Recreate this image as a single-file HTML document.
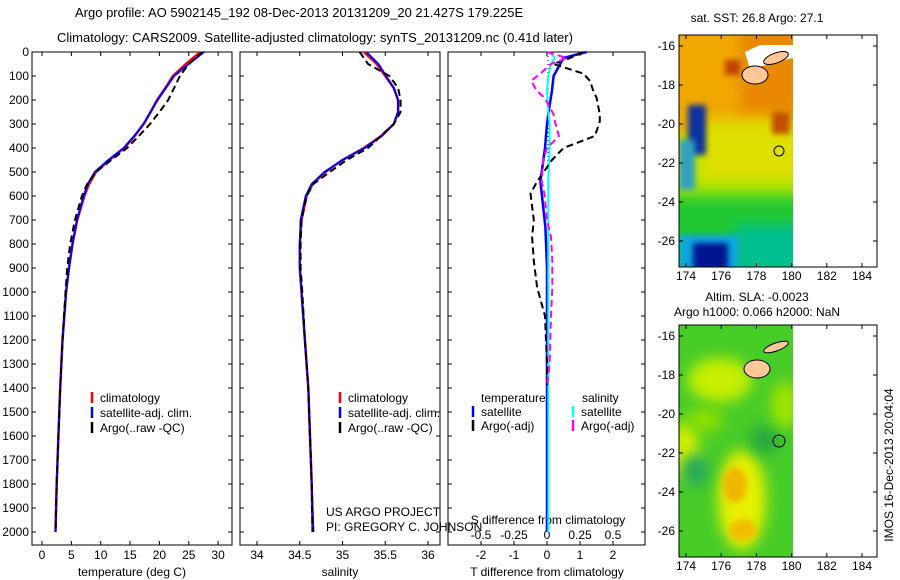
<!DOCTYPE html>
<html><head><meta charset="utf-8"><style>
body{margin:0;background:#fff;}
svg{display:block;font-family:"Liberation Sans",sans-serif;}
text{fill:#000;}
</style></head><body>
<svg id="c" width="900" height="580" viewBox="0 0 900 580">
<defs>
<filter id="bl" x="-50%" y="-50%" width="200%" height="200%"><feGaussianBlur stdDeviation="7"/></filter>
<filter id="bl2" x="-50%" y="-50%" width="200%" height="200%"><feGaussianBlur stdDeviation="3"/></filter>
<clipPath id="m1"><rect x="679" y="35" width="114" height="232"/></clipPath>
<clipPath id="m2"><rect x="679" y="325" width="114" height="232"/></clipPath>
</defs>
<text x="75" y="17" font-size="13">Argo profile: AO 5902145_192 08-Dec-2013 20131209_20 21.427S 179.225E</text>
<text x="57" y="42" font-size="13">Climatology: CARS2009. Satellite-adjusted climatology: synTS_20131209.nc (0.41d later)</text>
<g id="plots"></g>

<!-- map 1 SST -->
<g>
<text x="757" y="22" font-size="12" text-anchor="middle">sat. SST: 26.8 Argo: 27.1</text>
<g clip-path="url(#m1)">
<rect x="679" y="35" width="114" height="232" fill="#b0e400"/>
<rect x="660" y="20" width="150" height="115" fill="#f0a800" filter="url(#bl)"/>
<rect x="740" y="20" width="60" height="95" fill="#e88800" filter="url(#bl)"/>
<rect x="700" y="120" width="100" height="60" fill="#e0e000" filter="url(#bl)"/>
<rect x="660" y="195" width="150" height="80" fill="#20c830" filter="url(#bl)"/>
<rect x="735" y="225" width="70" height="50" fill="#00c090" filter="url(#bl)"/>
<rect x="679" y="235" width="60" height="35" fill="#10a8e0" filter="url(#bl2)"/>
<rect x="693" y="243" width="35" height="27" fill="#001890" filter="url(#bl2)"/>
<rect x="688" y="105" width="18" height="50" fill="#0830a0" filter="url(#bl2)"/>
<rect x="679" y="140" width="16" height="50" fill="#30a0c0" filter="url(#bl2)"/>
<rect x="772" y="112" width="18" height="22" fill="#c05000" filter="url(#bl2)"/>
<rect x="725" y="60" width="15" height="15" fill="#c04000" filter="url(#bl2)"/>
</g>
<path d="M745 52 L760 45 L793 45 L793 58 L775 62 L750 70 Z" fill="#fff"/>
<ellipse cx="755" cy="75" rx="13" ry="9" fill="#ffc896" stroke="#000"/>
<ellipse cx="776" cy="58" rx="13" ry="5" fill="#ffc896" stroke="#000" transform="rotate(-20 776 58)"/>
<circle cx="779" cy="151" r="5" fill="none" stroke="#000"/>
<rect x="679" y="35" width="198" height="232" fill="none" stroke="#000"/>
<g id="map1ticks"></g>
</g>

<!-- map 2 SLA -->
<g>
<text x="757" y="301" font-size="12" text-anchor="middle">Altim. SLA: -0.0023</text>
<text x="757" y="316" font-size="12" text-anchor="middle">Argo h1000: 0.066 h2000: NaN</text>
<g clip-path="url(#m2)">
<rect x="679" y="325" width="114" height="232" fill="#48cc28"/>
<ellipse cx="720" cy="380" rx="32" ry="22" fill="#c8f000" filter="url(#bl)"/>
<ellipse cx="685" cy="450" rx="14" ry="28" fill="#d8f000" filter="url(#bl)"/>
<ellipse cx="742" cy="500" rx="24" ry="50" fill="#e8f000" filter="url(#bl)"/>
<ellipse cx="735" cy="485" rx="12" ry="18" fill="#f0b800" filter="url(#bl2)"/>
<ellipse cx="743" cy="530" rx="14" ry="11" fill="#f0c000" filter="url(#bl2)"/>
<ellipse cx="695" cy="470" rx="14" ry="16" fill="#20a860" filter="url(#bl)"/>
<ellipse cx="765" cy="440" rx="16" ry="14" fill="#28a840" filter="url(#bl)"/>
<ellipse cx="785" cy="405" rx="14" ry="24" fill="#a0e400" filter="url(#bl)"/>
<ellipse cx="705" cy="420" rx="18" ry="12" fill="#90e000" filter="url(#bl)"/>
</g>
<ellipse cx="757" cy="369" rx="13" ry="9" fill="#ffc896" stroke="#000"/>
<ellipse cx="776" cy="347" rx="13" ry="4" fill="#ffc896" stroke="#000" transform="rotate(-20 776 347)"/>
<circle cx="779" cy="441" r="6" fill="none" stroke="#000"/>
<rect x="679" y="325" width="198" height="232" fill="none" stroke="#000"/>
<g id="map2ticks"></g>
</g>
<text transform="translate(893 465) rotate(-90)" font-size="12" text-anchor="middle">IMOS 16-Dec-2013 20:04:04</text>
</svg>
<script>
// ---- data ----
const depths = [0,50,100,150,200,250,300,350,400,450,500,550,600,700,800,900,1000,1200,1400,1600,1800,2000];
const climT  = [27,24.5,22.3,21,19.6,18.5,17.3,15.8,14,11.5,9.2,8,7.2,6,5.2,4.6,4.1,3.5,3.1,2.8,2.5,2.3];
const satT   = [27.6,25,22.5,21.1,19.7,18.5,17.3,15.7,13.9,11.3,9,7.8,7.1,5.95,5.2,4.6,4.1,3.5,3.1,2.8,2.5,2.3];
const argoT  = [27.3,25,23.5,22.5,21.5,20,18.4,16.5,14.5,11.8,9.2,7.7,6.8,5.6,4.8,4.3,4.0,3.5,3.1,2.8,2.5,2.3];
const climS  = [35.25,35.4,35.5,35.6,35.65,35.65,35.6,35.45,35.25,35.0,34.8,34.65,34.58,34.52,34.5,34.5,34.52,34.56,34.6,34.62,34.64,34.65];
const satS   = [35.28,35.42,35.51,35.6,35.65,35.65,35.6,35.46,35.26,35.0,34.79,34.64,34.57,34.51,34.5,34.5,34.52,34.56,34.6,34.62,34.64,34.66];
const argoS  = [35.2,35.3,35.55,35.65,35.68,35.68,35.6,35.45,35.3,35.05,34.85,34.66,34.58,34.52,34.51,34.51,34.53,34.56,34.6,34.62,34.64,34.65];
const dDepth = [0,25,50,90,120,160,190,260,290,350,400,450,540,590,700,770,870,980,1100,1300,1400];
const argoDT = [1.1,0.7,0.2,1.1,1.3,1.4,1.5,1.6,1.6,1.45,0.5,0.15,-0.3,-0.5,-0.4,-0.45,-0.4,-0.3,-0.06,0.0,0.0];
const argoDS = [0.0,0.15,0.03,-0.05,-0.12,-0.08,-0.02,0.05,0.06,0.09,0.0,-0.03,-0.04,-0.02,0.0,0.03,0.04,0.04,0.03,0.02,0.0];
const sDepth = [0,25,50,100,160,250,300,400,540,730,900,1200,1600,2000];
const satDT  = [1.2,0.5,0.4,0.2,0.15,0.05,0.0,-0.06,-0.2,-0.05,0.0,0.0,0.0,0.0];
const satDS  = [0.02,0.06,0.03,0.01,0.0,0.01,0.02,0.02,0.01,0.01,0.01,0.01,0.01,0.01];
const depthTicks = [0,100,200,300,400,500,600,700,800,900,1000,1100,1200,1300,1400,1500,1600,1700,1800,1900,2000];
const tTicks = [0,5,10,15,20,25,30];
const sTicks = [34,34.5,35,35.5,36];
const dTicks = [-2,-1,0,1,2];
const dsTicks = [-0.5,-0.25,0,0.25,0.5];
const lonTicks = [174,176,178,180,182,184];
const latTicks = [-16,-18,-20,-22,-24,-26];

// ---- axes ----
const TOP=52, BOT=545;
const yD = d => 52 + d*0.24;
const xT = t => 42 + t*5.87;
const xS = s => 257 + (s-34)*85.5;
const xDT = v => 547 + v*33;
const xDS = v => 547 + v*4*33;
const NS='http://www.w3.org/2000/svg';
const root=document.getElementById('plots');
function mk(tag,attrs,parent){const e=document.createElementNS(NS,tag);for(const k in attrs)e.setAttribute(k,attrs[k]);(parent||root).appendChild(e);return e;}
function txt(x,y,s,anchor,parent,size){const e=mk('text',{x:x,y:y,'font-size':size||12,'text-anchor':anchor||'start'},parent);e.textContent=s;return e;}

const panels=[{x0:32,x1:232,name:'temperature-panel'},{x0:240,x1:440,name:'salinity-panel'},{x0:448,x1:645,name:'difference-panel'}];
panels.forEach(p=>{
  const r=mk('rect',{x:p.x0,y:TOP,width:p.x1-p.x0,height:BOT-TOP,fill:'none',stroke:'#000'});
  
  
  depthTicks.forEach(d=>{
    mk('line',{x1:p.x0,x2:p.x0+4,y1:yD(d),y2:yD(d),stroke:'#000'});
    mk('line',{x1:p.x1,x2:p.x1-4,y1:yD(d),y2:yD(d),stroke:'#000'});
  });
});
depthTicks.forEach(d=>{
  const t=txt(29,yD(d)+4,String(d),'end');
  
  
});
function xticks(arr,fx,fmt,y,p){arr.forEach(v=>{
  mk('line',{x1:fx(v),x2:fx(v),y1:BOT,y2:BOT-4,stroke:'#000'});
  mk('line',{x1:fx(v),x2:fx(v),y1:TOP,y2:TOP+4,stroke:'#000'});
  const t=txt(fx(v),y,fmt(v),'middle');
  
  
});}
xticks(tTicks,xT,v=>String(v),559,'temperature');
xticks(sTicks,xS,v=>String(v),559,'salinity');
xticks(dTicks,xDT,v=>String(v),559,'t-difference');
dsTicks.forEach(v=>{const t=txt(xDS(v),539,String(v),'middle');
  
  });
let l;
l=txt(132,576,'temperature (deg C)','middle');  
l=txt(340,576,'salinity','middle');  
l=txt(547,576,'T difference from climatology','middle');  
l=txt(548,524,'S difference from climatology','middle');  
l=txt(326,516,'US ARGO PROJECT');  
l=txt(326,531,'PI: GREGORY C. JOHNSON');  

function line(xs,ds,fx,color,w,dash,name){
  const pts=xs.map((v,i)=>fx(v).toFixed(1)+','+yD(ds[i]).toFixed(1)).join(' ');
  const a={points:pts,fill:'none',stroke:color,'stroke-width':w,'stroke-linejoin':'round'};
  if(dash)a['stroke-dasharray']=dash;
  const e=mk('polyline',a);
  
  
}
line(climT,depths,xT,'#f00',2.5,null,'temperature-climatology-line');
line(satT,depths,xT,'#00f',2,null,'temperature-satellite-line');
line(argoT,depths,xT,'#000',2,'7,4','temperature-argo-line');
line(climS,depths,xS,'#f00',2.5,null,'salinity-climatology-line');
line(satS,depths,xS,'#00f',2,null,'salinity-satellite-line');
line(argoS,depths,xS,'#000',2,'7,4','salinity-argo-line');
const z=mk('line',{x1:548,x2:548,y1:TOP,y2:yD(750),stroke:'#000','stroke-dasharray':'1,3'});


line(satDT,sDepth,xDT,'#00f',2.5,null,'t-diff-satellite-line');
line(satDS,sDepth,xDS,'#0ff',2,null,'s-diff-satellite-line');
line(argoDT,dDepth,xDT,'#000',2,'7,4','t-diff-argo-line');
line(argoDS,dDepth,xDS,'#f0f',2,'7,4','s-diff-argo-line');

// legends
function leg(x,y,color,label,name){
  const m=mk('line',{x1:x,x2:x,y1:y-10,y2:y+1,stroke:color,'stroke-width':2.5});
  
  
  const t=txt(x+8,y,label);
  
  
}
leg(92,402,'#f00','climatology','legend-climatology');
leg(92,417,'#00f','satellite-adj. clim.','legend-satellite');
leg(92,432,'#000','Argo(..raw -QC)','legend-argo');
leg(340,402,'#f00','climatology','legend-s-climatology');
leg(340,417,'#00f','satellite-adj. clim.','legend-s-satellite');
leg(340,432,'#000','Argo(..raw -QC)','legend-s-argo');
l=txt(481,402,'temperature');  
l=txt(582,402,'salinity');  
leg(473,416,'#00f','satellite','legend-t-satellite');
leg(473,430,'#000','Argo(-adj)','legend-t-argo');
leg(573,416,'#0ff','satellite','legend-s-satellite-diff');
leg(573,430,'#f0f','Argo(-adj)','legend-s-argo-diff');

// map ticks
function mapTicks(gid,y0,yBot){
  const g=document.getElementById(gid);
  const xL=lon=>686+(lon-174)*17.6;
  const yL=lat=>y0+(-16-lat)*19.5;
  lonTicks.forEach(v=>{
    mk('line',{x1:xL(v),x2:xL(v),y1:yBot,y2:yBot-4,stroke:'#000'},g);
    mk('line',{x1:xL(v),x2:xL(v),y1:yBot-232,y2:yBot-228,stroke:'#000'},g);
    const t=txt(xL(v),yBot+13,String(v),'middle',g);
    
    
  });
  latTicks.forEach(v=>{
    mk('line',{x1:679,x2:683,y1:yL(v),y2:yL(v),stroke:'#000'},g);
    mk('line',{x1:877,x2:873,y1:yL(v),y2:yL(v),stroke:'#000'},g);
    const t=txt(675,yL(v)+4,String(v),'end',g);
    
    
  });
}
mapTicks('map1ticks',46,267);
mapTicks('map2ticks',336,557);
</script>
</body></html>
